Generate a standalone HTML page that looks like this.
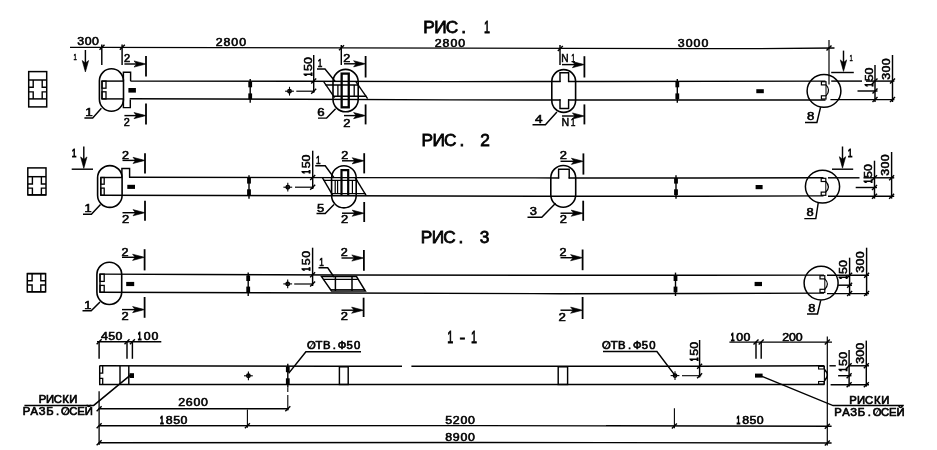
<!DOCTYPE html>
<html lang="ru">
<head>
<meta charset="utf-8">
<title>РИС. 1 - РИС. 3, 1-1</title>
<style>
html,body{margin:0;padding:0;background:#fff;}
body{width:937px;height:450px;overflow:hidden;}
svg{display:block;}
.t{font-family:"Liberation Sans","DejaVu Sans",sans-serif;fill:#000;stroke:#000;text-anchor:middle;}
</style>
</head>
<body>
<svg width="937" height="450" viewBox="0 0 937 450">
<rect x="0" y="0" width="937" height="450" fill="#fff"/>
<g stroke="#000" fill="none" opacity="0.999">
<text class="t" transform="translate(428.9 32.7) scale(1.08 1)" font-size="16" stroke-width="0.75" x="0 10.74 21.39 32.13 42.69 53.8" y="0">РИС. <tspan textLength="5.52" lengthAdjust="spacingAndGlyphs">1</tspan></text>
<path d="M70 47.3 L100 47.3 L340 47.8 L460 48.2 L700 48.6 L760 48.6 L834.5 48" stroke-width="1.3" fill="none" stroke-linejoin="miter"/>
<line x1="99.5" y1="49.8" x2="104.5" y2="44.8" stroke-width="1.4"/>
<line x1="119.8" y1="49.8" x2="124.8" y2="44.8" stroke-width="1.4"/>
<line x1="339" y1="50.3" x2="344" y2="45.3" stroke-width="1.4"/>
<line x1="557.8" y1="50.9" x2="562.8" y2="45.9" stroke-width="1.4"/>
<line x1="826.5" y1="50.5" x2="831.5" y2="45.5" stroke-width="1.4"/>
<line x1="101.8" y1="44.5" x2="101.8" y2="65" stroke-width="1.45"/>
<line x1="122.1" y1="44.5" x2="122.1" y2="65" stroke-width="1.45"/>
<line x1="341.3" y1="45" x2="341.3" y2="65" stroke-width="1.45"/>
<line x1="560" y1="45" x2="560" y2="65" stroke-width="1.45"/>
<line x1="829" y1="40" x2="829" y2="84.5" stroke-width="1.2"/>
<text class="t" transform="translate(80.7 45.3) scale(1.22 1)" font-size="10.14" stroke-width="0.55" x="0 6.07 12.13" y="0">300</text>
<text class="t" transform="translate(219.2 45.7) scale(1.22 1)" font-size="10.14" stroke-width="0.55" x="0 6.39 12.79 19.18" y="0">2800</text>
<text class="t" transform="translate(438.2 46.6) scale(1.22 1)" font-size="10.14" stroke-width="0.55" x="0 6.45 12.9 19.34" y="0">2800</text>
<text class="t" transform="translate(681.3 47.1) scale(1.22 1)" font-size="10.14" stroke-width="0.55" x="0 6.45 12.9 19.34" y="0">3000</text>
<text class="t" transform="translate(75.2 59.6) scale(0.62 1)" font-size="9.43" stroke-width="0.55" x="0" y="0">1</text>
<line x1="85.4" y1="50" x2="85.4" y2="69" stroke-width="1.45"/>
<path d="M85.4 72 L82.2 60.5 L85.4 63 L88.6 60.5 Z" stroke-width="0.6" fill="#000" stroke-linejoin="miter"/>
<text class="t" transform="translate(123.4 61.7) scale(1.1 1)" font-size="10" stroke-width="0.6" x="3.32" y="0">2</text>
<line x1="124.4" y1="64" x2="143" y2="64" stroke-width="1.45"/>
<path d="M146 64 L134 60.9 L136.5 64 L134 67.1 Z" stroke-width="0.6" fill="#000" stroke-linejoin="miter"/>
<line x1="146" y1="56" x2="146" y2="76.5" stroke-width="1.8"/>
<line x1="124.4" y1="115.6" x2="143" y2="115.6" stroke-width="1.45"/>
<path d="M146 115.6 L134 112.5 L136.5 115.6 L134 118.7 Z" stroke-width="0.6" fill="#000" stroke-linejoin="miter"/>
<line x1="146" y1="103.5" x2="146" y2="124.5" stroke-width="1.8"/>
<text class="t" transform="translate(123 126.2) scale(1 1)" font-size="10.86" stroke-width="0.55" x="3.65" y="0">2</text>
<text class="t" transform="translate(343.2 62.3) scale(1.22 1)" font-size="10.29" stroke-width="0.55" x="2.99" y="0">2</text>
<line x1="344" y1="63.8" x2="362.6" y2="63.8" stroke-width="1.45"/>
<path d="M365.6 63.8 L353.6 60.7 L356.1 63.8 L353.6 66.9 Z" stroke-width="0.6" fill="#000" stroke-linejoin="miter"/>
<line x1="365.6" y1="56" x2="365.6" y2="77.5" stroke-width="1.8"/>
<line x1="344" y1="115.6" x2="362.6" y2="115.6" stroke-width="1.45"/>
<path d="M365.6 115.6 L353.6 112.5 L356.1 115.6 L353.6 118.7 Z" stroke-width="0.6" fill="#000" stroke-linejoin="miter"/>
<line x1="365.6" y1="104.4" x2="365.6" y2="124.4" stroke-width="1.8"/>
<text class="t" transform="translate(343.2 126.6) scale(1.22 1)" font-size="10.57" stroke-width="0.55" x="2.99" y="0">2</text>
<text class="t" transform="translate(565 62.2) scale(1 1)" font-size="10.14" stroke-width="0.5" x="0 8.1" y="0">N<tspan textLength="3.95" lengthAdjust="spacingAndGlyphs">1</tspan></text>
<line x1="562" y1="64.6" x2="581.4" y2="64.6" stroke-width="1.45"/>
<path d="M584.4 64.6 L572.4 61.5 L574.9 64.6 L572.4 67.7 Z" stroke-width="0.6" fill="#000" stroke-linejoin="miter"/>
<line x1="584.4" y1="56.2" x2="584.4" y2="77.5" stroke-width="1.8"/>
<line x1="562" y1="116" x2="581.4" y2="116" stroke-width="1.45"/>
<path d="M584.4 116 L572.4 112.9 L574.9 116 L572.4 119.1 Z" stroke-width="0.6" fill="#000" stroke-linejoin="miter"/>
<line x1="584.4" y1="104.4" x2="584.4" y2="124.4" stroke-width="1.8"/>
<text class="t" transform="translate(565.2 126.4) scale(1 1)" font-size="10.57" stroke-width="0.5" x="0 7.9" y="0">N<tspan textLength="4.7" lengthAdjust="spacingAndGlyphs">1</tspan></text>
<rect x="99.4" y="68.8" width="24.1" height="42.5" rx="12.05" ry="12.05" stroke-width="1.6" fill="none"/>
<path d="M123.4 81 L123.4 72.2 L130.6 72.2 L130.6 81.1" stroke-width="1.45" fill="none" stroke-linejoin="miter"/>
<path d="M123.4 98.9 L123.4 107.6 L130.3 107.6 L130.3 99.6" stroke-width="1.45" fill="none" stroke-linejoin="miter"/>
<path d="M130.4 81.1 L300 81.3 L450 81.6 L560.6 81.53" stroke-width="1.45" fill="none" stroke-linejoin="miter"/>
<path d="M568 81.52 L600 81.5 L825.5 81.1" stroke-width="1.45" fill="none" stroke-linejoin="miter"/>
<path d="M129.7 98.7 L300 99.3 L450 99.85 L560.6 99.96" stroke-width="1.45" fill="none" stroke-linejoin="miter"/>
<path d="M568 99.97 L600 100 L825.5 100" stroke-width="1.45" fill="none" stroke-linejoin="miter"/>
<line x1="101.5" y1="81.1" x2="123" y2="81.1" stroke-width="1.45"/>
<line x1="101.5" y1="98.9" x2="123" y2="98.9" stroke-width="1.45"/>
<line x1="102" y1="81.1" x2="102" y2="98.9" stroke-width="1.4"/>
<rect x="102" y="81.1" width="4" height="7.1" stroke-width="1.3" fill="none"/>
<rect x="102" y="91.8" width="4" height="7.1" stroke-width="1.3" fill="none"/>
<rect x="128.4" y="88" width="7.5" height="4.6" stroke="none" fill="#000"/>
<text class="t" transform="translate(85.3 115.5) scale(1.22 1)" font-size="11.14" stroke-width="0.55" x="2.99" y="0">1</text>
<path d="M84.4 117.9 L92.7 117.9 L101.4 108.3" stroke-width="1.45" fill="none" stroke-linejoin="miter"/>
<line x1="250.2" y1="78.9" x2="250.2" y2="102.8" stroke-width="1.4"/>
<rect x="248.3" y="81.7" width="3.8" height="5.6" stroke="none" fill="#000"/>
<rect x="248.3" y="93.4" width="3.8" height="5.8" stroke="none" fill="#000"/>
<line x1="677.3" y1="78.9" x2="677.3" y2="102.8" stroke-width="1.4"/>
<rect x="675.4" y="81.7" width="3.8" height="5.6" stroke="none" fill="#000"/>
<rect x="675.4" y="93.4" width="3.8" height="5.8" stroke="none" fill="#000"/>
<circle cx="289.5" cy="91.2" r="1.7" stroke-width="1.5" fill="none"/>
<line x1="285.1" y1="91.2" x2="293.9" y2="91.2" stroke-width="1.1"/>
<line x1="289.5" y1="86.8" x2="289.5" y2="95.6" stroke-width="1.1"/>
<line x1="296.3" y1="91.2" x2="314.6" y2="91.2" stroke-width="1.2"/>
<line x1="313.7" y1="55" x2="313.7" y2="92.8" stroke-width="1.45"/>
<line x1="311.2" y1="83.5" x2="316.2" y2="78.5" stroke-width="1.4"/>
<line x1="311.2" y1="93.7" x2="316.2" y2="88.7" stroke-width="1.4"/>
<text class="t" transform="translate(311.8 77.8) rotate(-90) scale(1.22 1)" font-size="10.14" stroke-width="0.55" x="2.83 8.48 14.14" y="0"><tspan textLength="3.1" lengthAdjust="spacingAndGlyphs" stroke-width="1.1">1</tspan>50</text>
<text class="t" transform="translate(316.4 66.6) scale(0.8 1)" font-size="10.29" stroke-width="0.6" x="4.56" y="0">1</text>
<path d="M317 69 L325 69 L335.2 81.5" stroke-width="1.45" fill="none" stroke-linejoin="miter"/>
<rect x="333" y="69.4" width="25.2" height="42.4" rx="12.6" ry="12.6" stroke-width="1.6" fill="none"/>
<rect x="341.65" y="73.6" width="7.1" height="33.7" stroke-width="2.3" fill="none"/>
<line x1="323.8" y1="81.8" x2="334.6" y2="97.6" stroke-width="1.4"/>
<line x1="356" y1="81.8" x2="367.6" y2="98.6" stroke-width="1.4"/>
<line x1="325.49" y1="85" x2="358.71" y2="85" stroke-width="1.4"/>
<line x1="333.21" y1="96.3" x2="366.51" y2="96.3" stroke-width="1.4"/>
<line x1="337.9" y1="85" x2="337.9" y2="96.3" stroke-width="1.3"/>
<line x1="354.2" y1="85" x2="354.2" y2="96.3" stroke-width="1.3"/>
<text class="t" transform="translate(317.4 116) scale(1.22 1)" font-size="10.86" stroke-width="0.55" x="2.99" y="0">6</text>
<path d="M318 118.1 L326.6 118.1 L335.6 108.8" stroke-width="1.45" fill="none" stroke-linejoin="miter"/>
<rect x="551.8" y="69.6" width="23.8" height="42.8" rx="11.9" ry="11.9" stroke-width="1.6" fill="none"/>
<path d="M560 82.1 L560 72.8 L568.6 72.8 L568.6 82.1" stroke-width="1.45" fill="none" stroke-linejoin="miter"/>
<path d="M560 99.3 L560 108.5 L568.6 108.5 L568.6 99.3" stroke-width="1.45" fill="none" stroke-linejoin="miter"/>
<text class="t" transform="translate(535 122.5) scale(1.22 1)" font-size="11.14" stroke-width="0.55" x="2.99" y="0">4</text>
<path d="M532.5 124.7 L545.4 124.7 L556.9 111.9" stroke-width="1.45" fill="none" stroke-linejoin="miter"/>
<ellipse cx="824" cy="90.9" rx="16.9" ry="16.3" stroke-width="1.5" fill="none"/>
<rect x="756.3" y="89.2" width="7.5" height="4" stroke="none" fill="#000"/>
<rect x="821.4" y="81.7" width="4.6" height="3.2" stroke-width="1.2" fill="none"/>
<rect x="821.4" y="95.8" width="4.6" height="3.2" stroke-width="1.2" fill="none"/>
<path d="M826 84.9 Q831.2 90.35 826 95.8" stroke-width="1.2" fill="none"/>
<line x1="826" y1="84.9" x2="826" y2="95.8" stroke-width="1"/>
<path d="M820.6 107.2 L816.9 122.5 L805 122.5" stroke-width="1.45" fill="none" stroke-linejoin="miter"/>
<text class="t" transform="translate(807 119.6) scale(1.22 1)" font-size="10.86" stroke-width="0.55" x="2.99" y="0">8</text>
<line x1="843.5" y1="50.6" x2="843.5" y2="68.4" stroke-width="1.45"/>
<path d="M843.5 71.4 L840.3 59.9 L843.5 62.4 L846.7 59.9 Z" stroke-width="0.6" fill="#000" stroke-linejoin="miter"/>
<line x1="831.2" y1="72.5" x2="853.8" y2="72.5" stroke-width="1.45"/>
<text class="t" transform="translate(851 60.6) scale(0.6 1)" font-size="9.71" stroke-width="0.45" x="0" y="0">1</text>
<line x1="831.2" y1="81.1" x2="862" y2="81.1" stroke-width="1.45"/>
<line x1="866" y1="81.1" x2="894.4" y2="81.1" stroke-width="1.45"/>
<line x1="830.4" y1="99.6" x2="894.4" y2="99.6" stroke-width="1.45"/>
<line x1="857.5" y1="91" x2="877.5" y2="91" stroke-width="1.45"/>
<line x1="875" y1="65" x2="875" y2="102" stroke-width="1.45"/>
<line x1="892.5" y1="55" x2="892.5" y2="102" stroke-width="1.45"/>
<line x1="872.5" y1="83.6" x2="877.5" y2="78.6" stroke-width="1.4"/>
<line x1="872.5" y1="93.5" x2="877.5" y2="88.5" stroke-width="1.4"/>
<line x1="872.5" y1="102.1" x2="877.5" y2="97.1" stroke-width="1.4"/>
<line x1="890" y1="83.6" x2="895" y2="78.6" stroke-width="1.4"/>
<line x1="890" y1="102.1" x2="895" y2="97.1" stroke-width="1.4"/>
<text class="t" transform="translate(872.8 88.2) rotate(-90) scale(1.22 1)" font-size="10.14" stroke-width="0.55" x="2.83 8.48 14.14" y="0"><tspan textLength="3.1" lengthAdjust="spacingAndGlyphs" stroke-width="1.1">1</tspan>50</text>
<text class="t" transform="translate(890.2 80) rotate(-90) scale(1.22 1)" font-size="10.14" stroke-width="0.55" x="2.99 8.98 14.96" y="0">300</text>
<rect x="28.7" y="71.6" width="18" height="35.3" stroke-width="1.5" fill="none"/>
<line x1="28.7" y1="80" x2="46.7" y2="80" stroke-width="1.5"/>
<line x1="28.7" y1="98.9" x2="46.7" y2="98.9" stroke-width="1.5"/>
<path d="M28.7 87.2 L33.2 87.2 L33.2 80" stroke-width="1.4" fill="none" stroke-linejoin="miter"/>
<path d="M46.7 87.2 L42.2 87.2 L42.2 80" stroke-width="1.4" fill="none" stroke-linejoin="miter"/>
<path d="M28.7 91.9 L33.2 91.9 L33.2 98.9" stroke-width="1.4" fill="none" stroke-linejoin="miter"/>
<path d="M46.7 91.9 L42.2 91.9 L42.2 98.9" stroke-width="1.4" fill="none" stroke-linejoin="miter"/>
<text class="t" transform="translate(427.2 145.9) scale(1.08 1)" font-size="16" stroke-width="0.75" x="0 10.74 21.39 32.13 42.87 53.52" y="0">РИС. 2</text>
<text class="t" transform="translate(74.2 157) scale(0.8 1)" font-size="10.57" stroke-width="0.8" x="0" y="0">1</text>
<line x1="83.8" y1="146.5" x2="83.8" y2="165.4" stroke-width="1.45"/>
<path d="M83.8 168.4 L80.6 156.9 L83.8 159.4 L87 156.9 Z" stroke-width="0.6" fill="#000" stroke-linejoin="miter"/>
<line x1="71.7" y1="169.2" x2="93" y2="169.2" stroke-width="1.45"/>
<text class="t" transform="translate(121.9 158.8) scale(1.22 1)" font-size="10.29" stroke-width="0.55" x="2.99" y="0">2</text>
<line x1="122.5" y1="160.4" x2="142" y2="160.4" stroke-width="1.45"/>
<path d="M145 160.4 L133 157.3 L135.5 160.4 L133 163.5 Z" stroke-width="0.6" fill="#000" stroke-linejoin="miter"/>
<line x1="145" y1="153.2" x2="145" y2="173.4" stroke-width="1.8"/>
<line x1="122.5" y1="212.7" x2="142" y2="212.7" stroke-width="1.45"/>
<path d="M145 212.7 L133 209.6 L135.5 212.7 L133 215.8 Z" stroke-width="0.6" fill="#000" stroke-linejoin="miter"/>
<line x1="145" y1="200.7" x2="145" y2="220.8" stroke-width="1.8"/>
<text class="t" transform="translate(121.9 222.8) scale(1.22 1)" font-size="10.57" stroke-width="0.55" x="2.99" y="0">2</text>
<text class="t" transform="translate(341 159) scale(1.22 1)" font-size="10.29" stroke-width="0.55" x="2.99" y="0">2</text>
<line x1="342" y1="160.8" x2="361.2" y2="160.8" stroke-width="1.45"/>
<path d="M364.2 160.8 L352.2 157.7 L354.7 160.8 L352.2 163.9 Z" stroke-width="0.6" fill="#000" stroke-linejoin="miter"/>
<line x1="364.2" y1="153.2" x2="364.2" y2="173.4" stroke-width="1.8"/>
<line x1="342" y1="213.2" x2="361.2" y2="213.2" stroke-width="1.45"/>
<path d="M364.2 213.2 L352.2 210.1 L354.7 213.2 L352.2 216.3 Z" stroke-width="0.6" fill="#000" stroke-linejoin="miter"/>
<line x1="364.2" y1="202" x2="364.2" y2="222" stroke-width="1.8"/>
<text class="t" transform="translate(341 223.4) scale(1.22 1)" font-size="10.57" stroke-width="0.55" x="2.99" y="0">2</text>
<text class="t" transform="translate(559.6 159.1) scale(1.22 1)" font-size="10.57" stroke-width="0.55" x="2.99" y="0">2</text>
<line x1="560.5" y1="161.3" x2="580.4" y2="161.3" stroke-width="1.45"/>
<path d="M583.4 161.3 L571.4 158.2 L573.9 161.3 L571.4 164.4 Z" stroke-width="0.6" fill="#000" stroke-linejoin="miter"/>
<line x1="583.4" y1="153.4" x2="583.4" y2="174.6" stroke-width="1.8"/>
<line x1="560.5" y1="213.2" x2="580.2" y2="213.2" stroke-width="1.45"/>
<path d="M583.2 213.2 L571.2 210.1 L573.7 213.2 L571.2 216.3 Z" stroke-width="0.6" fill="#000" stroke-linejoin="miter"/>
<line x1="583.2" y1="200.7" x2="583.2" y2="220.8" stroke-width="1.8"/>
<text class="t" transform="translate(559.6 222.8) scale(1.22 1)" font-size="10.57" stroke-width="0.55" x="2.99" y="0">2</text>
<rect x="97.6" y="165.6" width="24.5" height="41.8" rx="12.25" ry="12.25" stroke-width="1.6" fill="none"/>
<path d="M121.9 177.4 L121.9 168.4 L129.6 168.4 L129.6 177.4" stroke-width="1.45" fill="none" stroke-linejoin="miter"/>
<path d="M129 177.3 L340 177.6 L559.2 177.9" stroke-width="1.45" fill="none" stroke-linejoin="miter"/>
<path d="M568.6 177.9 L700 177.9 L823.5 177.7" stroke-width="1.45" fill="none" stroke-linejoin="miter"/>
<path d="M100.6 195.3 L340 195.8 L560 196.3 L700 196.3 L823.5 195.9" stroke-width="1.45" fill="none" stroke-linejoin="miter"/>
<line x1="100.5" y1="177.5" x2="122" y2="177.5" stroke-width="1.45"/>
<line x1="100.8" y1="177.5" x2="100.8" y2="195.3" stroke-width="1.4"/>
<rect x="100.8" y="177.5" width="3.4" height="6.7" stroke-width="1.3" fill="none"/>
<rect x="100.8" y="188.1" width="3.4" height="7.2" stroke-width="1.3" fill="none"/>
<rect x="127.3" y="184.8" width="7.7" height="4.1" stroke="none" fill="#000"/>
<text class="t" transform="translate(84.4 212) scale(1.22 1)" font-size="10.57" stroke-width="0.55" x="2.99" y="0">1</text>
<path d="M83 214.2 L91.4 214.2 L100.5 204.6" stroke-width="1.45" fill="none" stroke-linejoin="miter"/>
<line x1="249" y1="175.2" x2="249" y2="198.7" stroke-width="1.4"/>
<rect x="247.1" y="178" width="3.8" height="5.6" stroke="none" fill="#000"/>
<rect x="247.1" y="189.3" width="3.8" height="5.8" stroke="none" fill="#000"/>
<line x1="676" y1="175.2" x2="676" y2="198.7" stroke-width="1.4"/>
<rect x="674.1" y="178" width="3.8" height="5.6" stroke="none" fill="#000"/>
<rect x="674.1" y="189.3" width="3.8" height="5.8" stroke="none" fill="#000"/>
<circle cx="287.8" cy="187.2" r="1.7" stroke-width="1.5" fill="none"/>
<line x1="283.4" y1="187.2" x2="292.2" y2="187.2" stroke-width="1.1"/>
<line x1="287.8" y1="182.8" x2="287.8" y2="191.6" stroke-width="1.1"/>
<line x1="295" y1="187.2" x2="313.6" y2="187.2" stroke-width="1.2"/>
<line x1="312.7" y1="150.7" x2="312.7" y2="189" stroke-width="1.45"/>
<line x1="310.2" y1="179.9" x2="315.2" y2="174.9" stroke-width="1.4"/>
<line x1="310.2" y1="189.7" x2="315.2" y2="184.7" stroke-width="1.4"/>
<text class="t" transform="translate(310.4 175.2) rotate(-90) scale(1.22 1)" font-size="10.14" stroke-width="0.55" x="2.83 8.48 14.14" y="0"><tspan textLength="3.1" lengthAdjust="spacingAndGlyphs" stroke-width="1.1">1</tspan>50</text>
<text class="t" transform="translate(314.6 164.4) scale(0.8 1)" font-size="10.29" stroke-width="0.6" x="4.56" y="0">1</text>
<path d="M315.2 165.8 L325.2 165.8 L334 177.8" stroke-width="1.45" fill="none" stroke-linejoin="miter"/>
<rect x="331.6" y="165.7" width="24.6" height="42.2" rx="12.3" ry="12.3" stroke-width="1.6" fill="none"/>
<path d="M341.5 195.6 L341.5 170.2 L348.2 170.2 L348.2 195.6" stroke-width="2.2" fill="none" stroke-linejoin="miter"/>
<line x1="322.4" y1="177.6" x2="332.6" y2="195.2" stroke-width="1.4"/>
<line x1="355.2" y1="177.6" x2="366.2" y2="195.6" stroke-width="1.4"/>
<line x1="323.52" y1="180.4" x2="357.41" y2="180.4" stroke-width="1.4"/>
<line x1="331.17" y1="193.6" x2="365.48" y2="193.6" stroke-width="1.4"/>
<line x1="335.2" y1="180.4" x2="335.2" y2="193.6" stroke-width="1.2"/>
<line x1="337.6" y1="180.4" x2="337.6" y2="193.6" stroke-width="1.2"/>
<line x1="352.4" y1="180.4" x2="352.4" y2="193.6" stroke-width="1.2"/>
<text class="t" transform="translate(317 212) scale(1.22 1)" font-size="10.57" stroke-width="0.55" x="2.99" y="0">5</text>
<path d="M316.5 213.4 L325.2 213.4 L334 204.6" stroke-width="1.45" fill="none" stroke-linejoin="miter"/>
<rect x="550.8" y="165.5" width="24.9" height="41.7" rx="12.45" ry="12.45" stroke-width="1.6" fill="none"/>
<path d="M558.6 178.6 L558.6 169.2 L569.2 169.2 L569.2 178.6" stroke-width="1.45" fill="none" stroke-linejoin="miter"/>
<text class="t" transform="translate(529.6 215.2) scale(1.22 1)" font-size="10.57" stroke-width="0.55" x="2.99" y="0">3</text>
<path d="M527.5 217.2 L541.8 217.2 L555.6 203.2" stroke-width="1.45" fill="none" stroke-linejoin="miter"/>
<ellipse cx="822.5" cy="186.6" rx="17.1" ry="16.4" stroke-width="1.5" fill="none"/>
<rect x="755.6" y="185" width="7" height="4.2" stroke="none" fill="#000"/>
<rect x="821.2" y="178.3" width="4.6" height="3.2" stroke-width="1.2" fill="none"/>
<rect x="821.2" y="192.1" width="4.6" height="3.2" stroke-width="1.2" fill="none"/>
<path d="M825.8 181.5 Q831 186.8 825.8 192.1" stroke-width="1.2" fill="none"/>
<line x1="825.8" y1="181.5" x2="825.8" y2="192.1" stroke-width="1"/>
<path d="M818.2 203 L815.8 218.6 L804.3 218.6" stroke-width="1.45" fill="none" stroke-linejoin="miter"/>
<text class="t" transform="translate(806.4 215.8) scale(1.22 1)" font-size="10.57" stroke-width="0.55" x="2.99" y="0">8</text>
<line x1="842.5" y1="146.5" x2="842.5" y2="165.2" stroke-width="1.45"/>
<path d="M842.5 168.2 L839.3 156.7 L842.5 159.2 L845.7 156.7 Z" stroke-width="0.6" fill="#000" stroke-linejoin="miter"/>
<line x1="832" y1="169.2" x2="853.2" y2="169.2" stroke-width="1.45"/>
<text class="t" transform="translate(850 157) scale(0.8 1)" font-size="10.57" stroke-width="0.8" x="0" y="0">1</text>
<line x1="828" y1="177.8" x2="859.5" y2="177.8" stroke-width="1.45"/>
<line x1="863.5" y1="177.8" x2="894.2" y2="177.8" stroke-width="1.45"/>
<line x1="828" y1="196.2" x2="894.2" y2="196.2" stroke-width="1.45"/>
<line x1="855.7" y1="187.5" x2="877" y2="187.5" stroke-width="1.45"/>
<line x1="874.5" y1="160.7" x2="874.5" y2="198.6" stroke-width="1.45"/>
<line x1="891.6" y1="152" x2="891.6" y2="198.6" stroke-width="1.45"/>
<line x1="872" y1="180.3" x2="877" y2="175.3" stroke-width="1.4"/>
<line x1="872" y1="190" x2="877" y2="185" stroke-width="1.4"/>
<line x1="872" y1="198.7" x2="877" y2="193.7" stroke-width="1.4"/>
<line x1="889.1" y1="180.3" x2="894.1" y2="175.3" stroke-width="1.4"/>
<line x1="889.1" y1="198.7" x2="894.1" y2="193.7" stroke-width="1.4"/>
<text class="t" transform="translate(872.2 184.8) rotate(-90) scale(1.22 1)" font-size="10.14" stroke-width="0.55" x="2.83 8.48 14.14" y="0"><tspan textLength="3.1" lengthAdjust="spacingAndGlyphs" stroke-width="1.1">1</tspan>50</text>
<text class="t" transform="translate(889.2 176) rotate(-90) scale(1.22 1)" font-size="10.14" stroke-width="0.55" x="2.99 8.98 14.96" y="0">300</text>
<rect x="27.8" y="167.9" width="18.2" height="27" stroke-width="1.5" fill="none"/>
<line x1="27.8" y1="176.7" x2="46" y2="176.7" stroke-width="1.5"/>
<line x1="27.8" y1="194.9" x2="46" y2="194.9" stroke-width="1.5"/>
<path d="M27.8 184 L32.4 184 L32.4 176.7" stroke-width="1.4" fill="none" stroke-linejoin="miter"/>
<path d="M46 184 L41.4 184 L41.4 176.7" stroke-width="1.4" fill="none" stroke-linejoin="miter"/>
<path d="M27.8 188.1 L32.4 188.1 L32.4 194.9" stroke-width="1.4" fill="none" stroke-linejoin="miter"/>
<path d="M46 188.1 L41.4 188.1 L41.4 194.9" stroke-width="1.4" fill="none" stroke-linejoin="miter"/>
<text class="t" transform="translate(426.4 243.4) scale(1.08 1)" font-size="16" stroke-width="0.75" x="0 10.65 21.39 32.04 43.15 53.89" y="0">РИС. 3</text>
<text class="t" transform="translate(121.4 255.6) scale(1.22 1)" font-size="10.29" stroke-width="0.55" x="2.99" y="0">2</text>
<line x1="122" y1="257.3" x2="141.6" y2="257.3" stroke-width="1.45"/>
<path d="M144.6 257.3 L132.6 254.2 L135.1 257.3 L132.6 260.4 Z" stroke-width="0.6" fill="#000" stroke-linejoin="miter"/>
<line x1="144.6" y1="249.2" x2="144.6" y2="270.4" stroke-width="1.8"/>
<line x1="122" y1="309.6" x2="141.6" y2="309.6" stroke-width="1.45"/>
<path d="M144.6 309.6 L132.6 306.5 L135.1 309.6 L132.6 312.7 Z" stroke-width="0.6" fill="#000" stroke-linejoin="miter"/>
<line x1="144.6" y1="297" x2="144.6" y2="317.8" stroke-width="1.8"/>
<text class="t" transform="translate(121.4 320.4) scale(1.22 1)" font-size="10.57" stroke-width="0.55" x="2.99" y="0">2</text>
<text class="t" transform="translate(340.6 256.1) scale(1.22 1)" font-size="10.29" stroke-width="0.55" x="2.99" y="0">2</text>
<line x1="341.5" y1="258" x2="360.8" y2="258" stroke-width="1.45"/>
<path d="M363.8 258 L351.8 254.9 L354.3 258 L351.8 261.1 Z" stroke-width="0.6" fill="#000" stroke-linejoin="miter"/>
<line x1="363.9" y1="250" x2="363.9" y2="270.8" stroke-width="1.8"/>
<line x1="341.5" y1="310.2" x2="360.6" y2="310.2" stroke-width="1.45"/>
<path d="M363.6 310.2 L351.6 307.1 L354.1 310.2 L351.6 313.3 Z" stroke-width="0.6" fill="#000" stroke-linejoin="miter"/>
<line x1="363.6" y1="297.7" x2="363.6" y2="317" stroke-width="1.8"/>
<text class="t" transform="translate(340.6 320.4) scale(1.22 1)" font-size="10.57" stroke-width="0.55" x="2.99" y="0">2</text>
<text class="t" transform="translate(559.4 256) scale(1.22 1)" font-size="10.29" stroke-width="0.55" x="2.99" y="0">2</text>
<line x1="560.5" y1="257.7" x2="579.6" y2="257.7" stroke-width="1.45"/>
<path d="M582.6 257.7 L570.6 254.6 L573.1 257.7 L570.6 260.8 Z" stroke-width="0.6" fill="#000" stroke-linejoin="miter"/>
<line x1="582.6" y1="249.5" x2="582.6" y2="270.2" stroke-width="1.8"/>
<line x1="560.5" y1="310.2" x2="579.6" y2="310.2" stroke-width="1.45"/>
<path d="M582.6 310.2 L570.6 307.1 L573.1 310.2 L570.6 313.3 Z" stroke-width="0.6" fill="#000" stroke-linejoin="miter"/>
<line x1="582.6" y1="297" x2="582.6" y2="319" stroke-width="1.8"/>
<text class="t" transform="translate(558.6 321.4) scale(1.22 1)" font-size="10.86" stroke-width="0.55" x="2.99" y="0">2</text>
<rect x="96.9" y="262.2" width="24.8" height="42.3" rx="12.4" ry="12.4" stroke-width="1.6" fill="none"/>
<path d="M99.5 274.1 L200 274.5 L340 274.9 L560 275.3 L700 275.2 L824 275.1" stroke-width="1.45" fill="none" stroke-linejoin="miter"/>
<path d="M99.5 292.2 L340 292.9 L560 293.7 L700 293.5 L824 293.1" stroke-width="1.45" fill="none" stroke-linejoin="miter"/>
<line x1="100" y1="274.1" x2="100" y2="292.3" stroke-width="1.4"/>
<rect x="100" y="274.1" width="4.2" height="7.3" stroke-width="1.3" fill="none"/>
<rect x="100" y="285.4" width="4.2" height="6.9" stroke-width="1.3" fill="none"/>
<rect x="126.2" y="281.9" width="8" height="4.2" stroke="none" fill="#000"/>
<text class="t" transform="translate(84.2 309) scale(1.22 1)" font-size="10.57" stroke-width="0.55" x="2.99" y="0">1</text>
<path d="M82.5 310.8 L91.2 310.8 L100 302" stroke-width="1.45" fill="none" stroke-linejoin="miter"/>
<line x1="248.2" y1="272.6" x2="248.2" y2="296" stroke-width="1.4"/>
<rect x="246.3" y="275.4" width="3.8" height="5.6" stroke="none" fill="#000"/>
<rect x="246.3" y="286.6" width="3.8" height="5.8" stroke="none" fill="#000"/>
<line x1="675.5" y1="272.6" x2="675.5" y2="296" stroke-width="1.4"/>
<rect x="673.6" y="275.4" width="3.8" height="5.6" stroke="none" fill="#000"/>
<rect x="673.6" y="286.6" width="3.8" height="5.8" stroke="none" fill="#000"/>
<circle cx="287.7" cy="283.9" r="1.7" stroke-width="1.5" fill="none"/>
<line x1="283.3" y1="283.9" x2="292.1" y2="283.9" stroke-width="1.1"/>
<line x1="287.7" y1="279.5" x2="287.7" y2="288.3" stroke-width="1.1"/>
<line x1="294.2" y1="284" x2="313.2" y2="284" stroke-width="1.2"/>
<line x1="312.6" y1="247.7" x2="312.6" y2="286" stroke-width="1.45"/>
<line x1="310.1" y1="277.3" x2="315.1" y2="272.3" stroke-width="1.4"/>
<line x1="310.1" y1="286.5" x2="315.1" y2="281.5" stroke-width="1.4"/>
<text class="t" transform="translate(310 269) rotate(-90) scale(1.22 1)" font-size="10.14" stroke-width="0.55" x="0 5.98 11.97" y="0"><tspan textLength="3.1" lengthAdjust="spacingAndGlyphs" stroke-width="1.1">1</tspan>50</text>
<text class="t" transform="translate(317.8 266) scale(0.8 1)" font-size="10.29" stroke-width="0.6" x="4.56" y="0">1</text>
<path d="M318.5 267.8 L327.7 267.8 L334 277" stroke-width="1.45" fill="none" stroke-linejoin="miter"/>
<path d="M321.5 276.6 L356.5 276.6 L365.4 291 L331.5 291 Z" stroke-width="1.5" fill="none" stroke-linejoin="miter"/>
<line x1="335.4" y1="276.4" x2="335.4" y2="291" stroke-width="1.5"/>
<line x1="352" y1="276.4" x2="352" y2="291" stroke-width="1.5"/>
<line x1="323.5" y1="279.4" x2="357.8" y2="279.4" stroke-width="1.1"/>
<line x1="331" y1="289.6" x2="364.6" y2="289.6" stroke-width="1"/>
<ellipse cx="821.1" cy="283.1" rx="17" ry="16.8" stroke-width="1.5" fill="none"/>
<rect x="754.6" y="281.9" width="7.4" height="4.2" stroke="none" fill="#000"/>
<rect x="820" y="275.7" width="4.8" height="3.2" stroke-width="1.2" fill="none"/>
<rect x="820" y="289.3" width="4.8" height="3.2" stroke-width="1.2" fill="none"/>
<path d="M824.8 278.9 Q830 284.1 824.8 289.3" stroke-width="1.2" fill="none"/>
<line x1="824.8" y1="278.9" x2="824.8" y2="289.3" stroke-width="1"/>
<path d="M820.7 300.4 L817.5 314 L807 314" stroke-width="1.45" fill="none" stroke-linejoin="miter"/>
<text class="t" transform="translate(808.2 311.6) scale(1.22 1)" font-size="10.57" stroke-width="0.55" x="2.99" y="0">8</text>
<line x1="827" y1="275.2" x2="869" y2="275.2" stroke-width="1.45"/>
<line x1="827" y1="293.6" x2="869" y2="293.6" stroke-width="1.45"/>
<line x1="838" y1="285.2" x2="852" y2="285.2" stroke-width="1.45"/>
<line x1="849.6" y1="257.7" x2="849.6" y2="295.8" stroke-width="1.45"/>
<line x1="866.6" y1="247.7" x2="866.6" y2="295.8" stroke-width="1.45"/>
<line x1="847.1" y1="277.7" x2="852.1" y2="272.7" stroke-width="1.4"/>
<line x1="847.1" y1="287.7" x2="852.1" y2="282.7" stroke-width="1.4"/>
<line x1="847.1" y1="296.1" x2="852.1" y2="291.1" stroke-width="1.4"/>
<line x1="864.1" y1="277.7" x2="869.1" y2="272.7" stroke-width="1.4"/>
<line x1="864.1" y1="296.1" x2="869.1" y2="291.1" stroke-width="1.4"/>
<text class="t" transform="translate(847.2 277.4) rotate(-90) scale(1.22 1)" font-size="10.14" stroke-width="0.55" x="0 5.66 11.31" y="0"><tspan textLength="3.1" lengthAdjust="spacingAndGlyphs" stroke-width="1.1">1</tspan>50</text>
<text class="t" transform="translate(864.2 273) rotate(-90) scale(1.22 1)" font-size="10.14" stroke-width="0.55" x="2.99 8.98 14.96" y="0">300</text>
<rect x="27.3" y="273.6" width="18.3" height="18.2" stroke-width="1.5" fill="none"/>
<line x1="27.3" y1="273.6" x2="45.6" y2="273.6" stroke-width="1.5"/>
<line x1="27.3" y1="291.8" x2="45.6" y2="291.8" stroke-width="1.5"/>
<path d="M27.3 280.8 L32.1 280.8 L32.1 273.6" stroke-width="1.4" fill="none" stroke-linejoin="miter"/>
<path d="M45.6 280.8 L40.8 280.8 L40.8 273.6" stroke-width="1.4" fill="none" stroke-linejoin="miter"/>
<path d="M27.3 285 L32.1 285 L32.1 291.8" stroke-width="1.4" fill="none" stroke-linejoin="miter"/>
<path d="M45.6 285 L40.8 285 L40.8 291.8" stroke-width="1.4" fill="none" stroke-linejoin="miter"/>
<text class="t" transform="translate(450.2 343.3) scale(1.08 1)" font-size="16.14" stroke-width="0.75" x="0 5.37 11.3 16.48 21.94" y="0"><tspan textLength="5.56" lengthAdjust="spacingAndGlyphs">1</tspan> - <tspan textLength="5.56" lengthAdjust="spacingAndGlyphs">1</tspan></text>
<line x1="97" y1="341.8" x2="161.3" y2="341.8" stroke-width="1.45"/>
<text class="t" transform="translate(104.5 340) scale(1.22 1)" font-size="10.14" stroke-width="0.55" x="0 5.9 11.8" y="0">450</text>
<text class="t" transform="translate(139.6 340) scale(1.22 1)" font-size="10.14" stroke-width="0.55" x="0 6.31 12.62" y="0"><tspan textLength="3.1" lengthAdjust="spacingAndGlyphs" stroke-width="1.1">1</tspan>00</text>
<line x1="96.6" y1="344.3" x2="101.6" y2="339.3" stroke-width="1.4"/>
<line x1="124.5" y1="344.3" x2="129.5" y2="339.3" stroke-width="1.4"/>
<line x1="129.9" y1="344.3" x2="134.9" y2="339.3" stroke-width="1.4"/>
<line x1="99.1" y1="341.8" x2="99.1" y2="358.8" stroke-width="1.45"/>
<line x1="127" y1="341.8" x2="127" y2="358.8" stroke-width="1.45"/>
<line x1="132.4" y1="341.8" x2="132.4" y2="358.8" stroke-width="1.45"/>
<path d="M99.7 365.7 L330 366.2 L402 366.2" stroke-width="1.45" fill="none" stroke-linejoin="miter"/>
<path d="M411.4 366.2 L700 366.2 L824.4 365.7" stroke-width="1.45" fill="none" stroke-linejoin="miter"/>
<path d="M99.7 365.4 L99.7 384.5 L824.4 384.5" stroke-width="1.45" fill="none" stroke-linejoin="miter"/>
<line x1="120" y1="366" x2="120" y2="384.5" stroke-width="1.45"/>
<line x1="128.8" y1="366" x2="128.8" y2="384.5" stroke-width="1.45"/>
<path d="M99.7 373.2 L102.7 373.2 L102.7 366" stroke-width="1.3" fill="none" stroke-linejoin="miter"/>
<path d="M99.7 378.4 L102.7 378.4 L102.7 384.5" stroke-width="1.3" fill="none" stroke-linejoin="miter"/>
<rect x="129.5" y="373.2" width="4.5" height="4.8" stroke="none" fill="#000"/>
<path d="M130.4 375.2 L93.7 405.4 L24.4 405.4" stroke-width="1.5" fill="none" stroke-linejoin="miter"/>
<text class="t" transform="translate(42.4 403.1) scale(1.08 1)" font-size="10.43" stroke-width="0.65" x="0 7.13 14.26 21.39 28.52" y="0">РИСКИ</text>
<text class="t" transform="translate(26.5 415.4) scale(1.08 1)" font-size="10.43" stroke-width="0.65" x="0 7.21 14.42 21.63 28.84 36.05 43.26 50.47 57.69" y="0">РАЗБ.ОСЕЙ</text>
<line x1="63.54" y1="414.5" x2="67.34" y2="408.7" stroke-width="0.9"/>
<circle cx="248.4" cy="375.8" r="1.7" stroke-width="1.5" fill="none"/>
<line x1="244" y1="375.8" x2="252.8" y2="375.8" stroke-width="1.1"/>
<line x1="248.4" y1="371.4" x2="248.4" y2="380.2" stroke-width="1.1"/>
<line x1="287.8" y1="363.8" x2="287.8" y2="387.7" stroke-width="1.4"/>
<rect x="285.9" y="366.6" width="3.8" height="5.6" stroke="none" fill="#000"/>
<rect x="285.9" y="378.3" width="3.8" height="5.8" stroke="none" fill="#000"/>
<line x1="287.8" y1="388" x2="287.8" y2="392" stroke-width="1.1"/>
<line x1="287.8" y1="395" x2="287.8" y2="410.6" stroke-width="1.1"/>
<text class="t" transform="translate(311.4 349.3) scale(1.08 1)" font-size="10.43" stroke-width="0.65" x="0 7.07 14.14 21.2 28.27 35.34 42.41" y="0">ОТВ.Ф50</text>
<line x1="309.5" y1="348.4" x2="313.3" y2="342.6" stroke-width="0.9"/>
<path d="M361 351.7 L305.9 351.7 L288.6 373.4" stroke-width="1.5" fill="none" stroke-linejoin="miter"/>
<rect x="339.4" y="366.8" width="8.8" height="17.7" stroke-width="1.45" fill="none"/>
<rect x="558.2" y="366.8" width="9.4" height="17.7" stroke-width="1.45" fill="none"/>
<text class="t" transform="translate(606.5 349.3) scale(1.08 1)" font-size="10.43" stroke-width="0.65" x="0 7.1 14.2 21.3 28.4 35.49 42.59" y="0">ОТВ.Ф50</text>
<line x1="604.6" y1="348.4" x2="608.4" y2="342.6" stroke-width="0.9"/>
<path d="M603 351.5 L656.9 351.5 L674.4 374.6" stroke-width="1.5" fill="none" stroke-linejoin="miter"/>
<circle cx="675" cy="375.6" r="1.7" stroke-width="1.5" fill="none"/>
<line x1="670.6" y1="375.6" x2="679.4" y2="375.6" stroke-width="1.1"/>
<line x1="675" y1="371.2" x2="675" y2="380" stroke-width="1.1"/>
<line x1="682" y1="375.7" x2="701.2" y2="375.7" stroke-width="1.1"/>
<line x1="699.6" y1="340" x2="699.6" y2="377.4" stroke-width="1.45"/>
<line x1="697.1" y1="368.7" x2="702.1" y2="363.7" stroke-width="1.4"/>
<line x1="697.1" y1="378.2" x2="702.1" y2="373.2" stroke-width="1.4"/>
<text class="t" transform="translate(697.7 359.4) rotate(-90) scale(1.22 1)" font-size="10.14" stroke-width="0.55" x="0 5.82 11.64" y="0"><tspan textLength="3.1" lengthAdjust="spacingAndGlyphs" stroke-width="1.1">1</tspan>50</text>
<line x1="729.4" y1="342.1" x2="832" y2="342.1" stroke-width="1.45"/>
<text class="t" transform="translate(732.6 341) scale(1.22 1)" font-size="10.14" stroke-width="0.55" x="0 5.86 11.72" y="0"><tspan textLength="3.1" lengthAdjust="spacingAndGlyphs" stroke-width="1.1">1</tspan>00</text>
<text class="t" transform="translate(785.6 341) scale(1.22 1)" font-size="10.14" stroke-width="0.55" x="0 5.57 11.15" y="0">200</text>
<line x1="753.5" y1="344.6" x2="758.5" y2="339.6" stroke-width="1.4"/>
<line x1="758.7" y1="344.6" x2="763.7" y2="339.6" stroke-width="1.4"/>
<line x1="824.8" y1="344.6" x2="829.8" y2="339.6" stroke-width="1.4"/>
<line x1="756" y1="342.1" x2="756" y2="358.8" stroke-width="1.45"/>
<line x1="761.2" y1="342.1" x2="761.2" y2="358.8" stroke-width="1.45"/>
<line x1="827.3" y1="336.6" x2="827.3" y2="445.5" stroke-width="1.2"/>
<rect x="755" y="373.6" width="7.6" height="4" stroke="none" fill="#000"/>
<rect x="818.6" y="366.4" width="5.4" height="2.6" stroke-width="1.1" fill="none"/>
<rect x="818.6" y="381.5" width="5.4" height="2.6" stroke-width="1.1" fill="none"/>
<line x1="824.4" y1="366" x2="824.4" y2="384.5" stroke-width="1.1"/>
<path d="M824.6 369.6 Q830.2 375.1 824.6 380.6" stroke-width="1.5" fill="none"/>
<path d="M762 376.4 L833.1 405.6 L903.8 405.6" stroke-width="1.5" fill="none" stroke-linejoin="miter"/>
<text class="t" transform="translate(853.1 403.6) scale(1.08 1)" font-size="10.43" stroke-width="0.65" x="0 7.43 14.86 22.29 29.72" y="0">РИСКИ</text>
<text class="t" transform="translate(838.1 415.7) scale(1.08 1)" font-size="10.43" stroke-width="0.65" x="0 7.23 14.47 21.7 28.94 36.17 43.4 50.64 57.87" y="0">РАЗБ.ОСЕЙ</text>
<line x1="875.26" y1="414.8" x2="879.06" y2="409" stroke-width="0.9"/>
<line x1="829.4" y1="365.8" x2="835.8" y2="365.8" stroke-width="1.45"/>
<line x1="848.4" y1="365.8" x2="869" y2="365.8" stroke-width="1.45"/>
<line x1="830.6" y1="384.8" x2="869" y2="384.8" stroke-width="1.45"/>
<line x1="838.1" y1="375.7" x2="851.4" y2="375.7" stroke-width="1.45"/>
<line x1="849.1" y1="350" x2="849.1" y2="386.6" stroke-width="1.45"/>
<line x1="866.3" y1="340.6" x2="866.3" y2="386.6" stroke-width="1.45"/>
<line x1="846.6" y1="368.3" x2="851.6" y2="363.3" stroke-width="1.4"/>
<line x1="846.6" y1="378.2" x2="851.6" y2="373.2" stroke-width="1.4"/>
<line x1="846.6" y1="387.3" x2="851.6" y2="382.3" stroke-width="1.4"/>
<line x1="863.8" y1="368.3" x2="868.8" y2="363.3" stroke-width="1.4"/>
<line x1="863.8" y1="387.3" x2="868.8" y2="382.3" stroke-width="1.4"/>
<text class="t" transform="translate(846.5 369.6) rotate(-90) scale(1.22 1)" font-size="10.14" stroke-width="0.55" x="0 5.82 11.64" y="0"><tspan textLength="3.1" lengthAdjust="spacingAndGlyphs" stroke-width="1.1">1</tspan>50</text>
<text class="t" transform="translate(863.7 360.4) rotate(-90) scale(1.22 1)" font-size="10.14" stroke-width="0.55" x="0 5.74 11.48" y="0">300</text>
<line x1="99.1" y1="391.2" x2="99.1" y2="445" stroke-width="1.3"/>
<line x1="98.6" y1="408.8" x2="289" y2="408.8" stroke-width="1.45"/>
<line x1="96.6" y1="411.3" x2="101.6" y2="406.3" stroke-width="1.4"/>
<line x1="285.3" y1="411.3" x2="290.3" y2="406.3" stroke-width="1.4"/>
<text class="t" transform="translate(181.7 406.4) scale(1.22 1)" font-size="10.14" stroke-width="0.55" x="0 6.23 12.46 18.69" y="0">2600</text>
<path d="M98.6 425.8 L480 425.6 L831.6 426.3" stroke-width="1.45" fill="none" stroke-linejoin="miter"/>
<path d="M98.6 442.7 L480 442.4 L831.6 443" stroke-width="1.45" fill="none" stroke-linejoin="miter"/>
<line x1="96.6" y1="428.3" x2="101.6" y2="423.3" stroke-width="1.4"/>
<line x1="244.9" y1="428.2" x2="249.9" y2="423.2" stroke-width="1.4"/>
<line x1="671.9" y1="428.5" x2="676.9" y2="423.5" stroke-width="1.4"/>
<line x1="824.8" y1="428.8" x2="829.8" y2="423.8" stroke-width="1.4"/>
<line x1="247.4" y1="409.4" x2="247.4" y2="427.8" stroke-width="1.1"/>
<line x1="674.4" y1="408.2" x2="674.4" y2="428.2" stroke-width="1.1"/>
<text class="t" transform="translate(161.9 423.7) scale(1.22 1)" font-size="10.14" stroke-width="0.55" x="0 6.04 12.08 18.11" y="0"><tspan textLength="3.1" lengthAdjust="spacingAndGlyphs" stroke-width="1.1">1</tspan>850</text>
<text class="t" transform="translate(448.7 423.8) scale(1.22 1)" font-size="10.14" stroke-width="0.55" x="0 6.23 12.46 18.69" y="0">5200</text>
<text class="t" transform="translate(738.3 424.2) scale(1.22 1)" font-size="10.14" stroke-width="0.55" x="0 5.98 11.97 17.95" y="0"><tspan textLength="3.1" lengthAdjust="spacingAndGlyphs" stroke-width="1.1">1</tspan>850</text>
<line x1="96.6" y1="445.2" x2="101.6" y2="440.2" stroke-width="1.4"/>
<line x1="824.8" y1="445.5" x2="829.8" y2="440.5" stroke-width="1.4"/>
<text class="t" transform="translate(448.7 441.1) scale(1.22 1)" font-size="10.14" stroke-width="0.55" x="0 6.23 12.46 18.69" y="0">8900</text>
</g>
</svg>
</body>
</html>
